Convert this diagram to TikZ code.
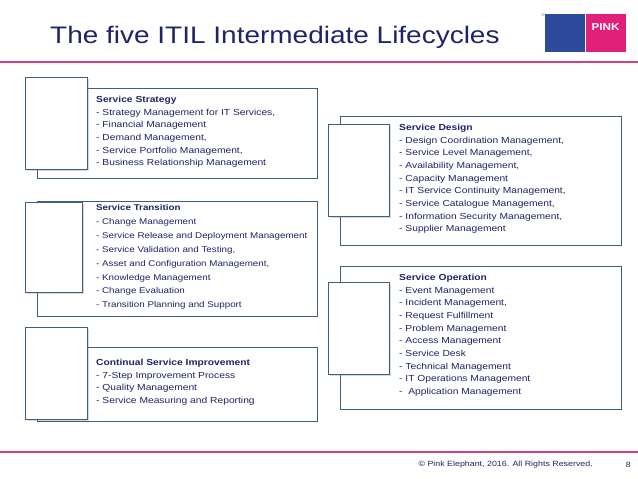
\documentclass[tikz,border=0pt]{standalone}
\usepackage{fontspec}
\setmainfont[FakeStretch=1.17]{Liberation Sans}
\definecolor{pinkline}{HTML}{D6407E}
\definecolor{boxline}{HTML}{3F5F80}
\definecolor{navy}{HTML}{1E2466}
\definecolor{logoblue}{HTML}{2E4A9A}
\definecolor{logopink}{HTML}{E0207A}
\usetikzlibrary{shadows}
\tikzset{
  lifebox/.style={draw=boxline, line width=0.8pt, fill=white, anchor=north west, inner sep=0pt},
  tabbox/.style={draw=boxline, line width=0.8pt, fill=white, anchor=north west, inner sep=0pt,
    drop shadow={shadow xshift=1.5pt, shadow yshift=-1.5pt, opacity=0.3}},
  smalltext/.style={anchor=north west, inner sep=0pt, align=left, text=navy,
    font=\fontsize{8.8}{12.7}\selectfont},
  bigtext/.style={anchor=north west, inner sep=0pt, align=left, text=navy,
    font=\fontsize{8.4}{14}\selectfont},
}
\begin{document}
\begin{tikzpicture}[x=1bp,y=-1bp]
  \useasboundingbox (0,0) rectangle (638,479);
  % title and rules
  \node[anchor=west, inner sep=0pt, font=\fontsize{24}{28}\selectfont, text=navy] (title) at (50,37) {The five ITIL Intermediate Lifecycles};
  \draw[pinkline, line width=2pt] (0,62) -- (638,62);
  \draw[pinkline, line width=2pt] (0,452) -- (638,452);
  % logo
  \node[fill=logoblue, minimum width=40bp, minimum height=38bp, anchor=north west, inner sep=0pt] (logoleft) at (545,14) {};
  \node[fill=logopink, minimum width=40bp, minimum height=38bp, anchor=north west, inner sep=0pt, text=white,
    font=\bfseries\fontsize{10}{12}\selectfont] (logoright) at (logoleft.north east) {\raisebox{12bp}{PINK}};
  \node[anchor=north east, inner sep=0pt, font=\fontsize{4}{4}\selectfont, text=gray] (reg) at (logoleft.north west) {®};
  % left column
  \node[lifebox, minimum width=280bp, minimum height=90bp] (strategy) at (37,88) {};
  \node[tabbox, minimum width=62bp, minimum height=92bp] (strategytab) at (25,77) {};
  \node[smalltext] (strategytext) at (96,96) {\textbf{Service Strategy}\\
    - Strategy Management for IT Services,\\
    - Financial Management\\
    - Demand Management,\\
    - Service Portfolio Management,\\
    - Business Relationship Management};
  \node[lifebox, minimum width=280bp, minimum height=115bp] (transition) at (37,201) {};
  \node[tabbox, minimum width=57bp, minimum height=90bp] (transitiontab) at (25,202) {};
  \node[bigtext] (transitiontext) at (96,204) {\textbf{Service Transition}\\
    - Change Management\\
    - Service Release and Deployment Management\\
    - Service Validation and Testing,\\
    - Asset and Configuration Management,\\
    - Knowledge Management\\
    - Change Evaluation\\
    - Transition Planning and Support};
  \node[lifebox, minimum width=280bp, minimum height=74bp] (improvement) at (37,347) {};
  \node[tabbox, minimum width=62bp, minimum height=92bp] (improvementtab) at (25,327) {};
  \node[smalltext] (improvementtext) at (96,359) {\textbf{Continual Service Improvement}\\
    - 7-Step Improvement Process\\
    - Quality Management\\
    - Service Measuring and Reporting};
  % right column
  \node[lifebox, minimum width=281bp, minimum height=129bp] (design) at (340,116) {};
  \node[tabbox, minimum width=61bp, minimum height=92bp] (designtab) at (328,124) {};
  \node[smalltext] (designtext) at (399,124) {\textbf{Service Design}\\
    - Design Coordination Management,\\
    - Service Level Management,\\
    - Availability Management,\\
    - Capacity Management\\
    - IT Service Continuity Management,\\
    - Service Catalogue Management,\\
    - Information Security Management,\\
    - Supplier Management};
  \node[lifebox, minimum width=281bp, minimum height=143bp] (operation) at (340,266) {};
  \node[tabbox, minimum width=61bp, minimum height=92bp] (operationtab) at (328,282) {};
  \node[smalltext] (operationtext) at (399,274) {\textbf{Service Operation}\\
    - Event Management\\
    - Incident Management,\\
    - Request Fulfillment\\
    - Problem Management\\
    - Access Management\\
    - Service Desk\\
    - Technical Management\\
    - IT Operations Management\\
    -\ \ Application Management};
  % footer
  \node[anchor=east, inner sep=0pt, font=\fontsize{7.6}{9}\selectfont, text=navy] (copyright) at (593,465) {© Pink Elephant, 2016. All Rights Reserved.};
  \node[anchor=east, inner sep=0pt, font=\fontsize{7.6}{9}\selectfont, text=navy] (pagenum) at (631,465) {8};
\end{tikzpicture}
\end{document}
